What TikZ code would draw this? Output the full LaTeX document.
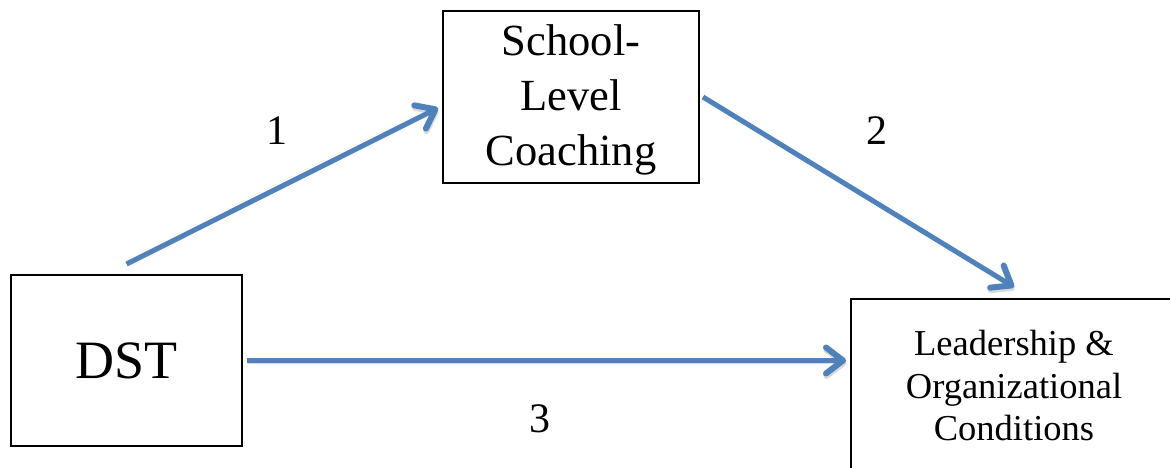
\documentclass[tikz,border=0pt]{standalone}
\usepackage{fontspec}
\setmainfont{Liberation Serif}
\newfontfamily\tnrfont{Liberation Serif}
\usetikzlibrary{arrows.meta}
\definecolor{arrblue}{HTML}{4F81BD}
\begin{document}
\begin{tikzpicture}[x=1pt,y=-1pt,
  box/.style={draw=black, line width=2pt, inner sep=0pt, align=center},
  conn/.style={draw=arrblue, line width=5pt,
    -{Straight Barb[length=17pt,width=26pt,line width=6pt,round]},
    preaction={draw=black!15, transform canvas={shift={(0.5pt,-2.5pt)}}}},
  lbl/.style={font=\tnrfont\fontsize{42}{42}\selectfont, inner sep=0pt}]
\useasboundingbox (0,0) rectangle (1170,468);
\clip (0,0) rectangle (1170,468);
\fill[white] (0,0) rectangle (1170,468);
\node[box, minimum width=231pt, minimum height=171pt,
      font=\tnrfont\fontsize{54}{54}\selectfont] (dst) at (126.5,360.5) {DST};
\node[box, minimum width=256pt, minimum height=172pt, text depth=4pt,
      font=\tnrfont\fontsize{44.5}{55}\selectfont] (slc) at (571,97) {School-\\Level\\Coaching};
\node[box, minimum width=326pt, minimum height=174pt,
      font=\tnrfont\fontsize{36.5}{42.5}\selectfont] (ldr) at (1014,386) {Leadership \&\\Organizational\\Conditions};
\draw[conn] ([yshift=10pt]dst.north) -- ([xshift=-4pt,yshift=-11pt]slc.west);
\draw[conn] ([xshift=3pt]slc.east) -- ([yshift=11pt]ldr.north);
\draw[conn] ([xshift=4pt]dst.east) -- ([xshift=-4pt]dst.east -| ldr.west);
\node[lbl] (n1) at (277,131) {1};
\node[lbl] (n2) at (877,131) {2};
\node[lbl] (n3) at (540,418.5) {3};
\end{tikzpicture}
\end{document}
